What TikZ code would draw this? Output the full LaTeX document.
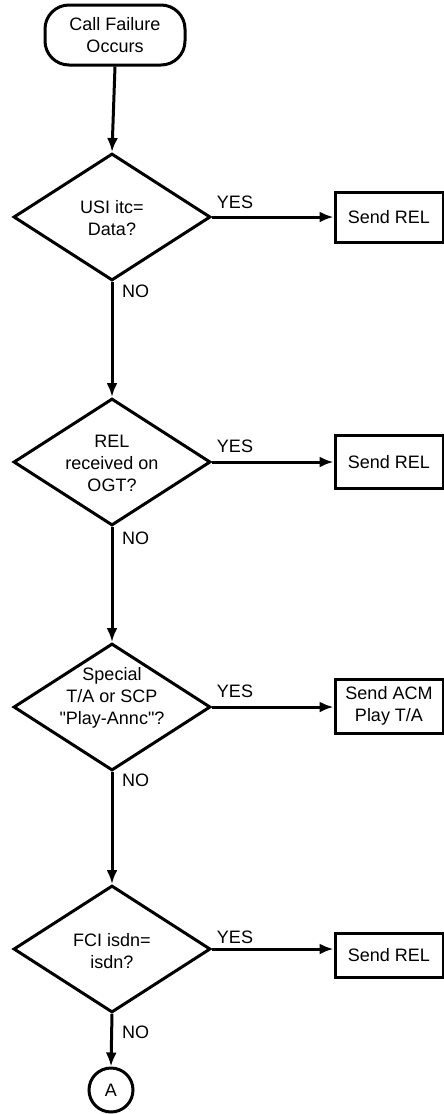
\documentclass[tikz,border=0pt]{standalone}
\usepackage{fontspec}
\setmainfont{Liberation Sans}[Ligatures=TeXOff]
\usetikzlibrary{shapes.geometric,arrows.meta}
\begin{document}
\begin{tikzpicture}[x=1pt,y=-1pt,
  every node/.style={font=\fontsize{18}{22}\selectfont},
  ln/.style={line width=3pt},
  arr/.style={ln,-{Latex[length=14pt,width=11pt]}},
  dec/.style={diamond,draw,line width=3pt,minimum width=197pt,minimum height=127pt,inner sep=0pt},
  txt/.style={align=center,inner sep=0pt},
  act/.style={rectangle,draw,line width=3pt,minimum width=108pt,align=center,inner sep=0pt},
  term/.style={rectangle,rounded corners=24pt,draw,line width=3pt,minimum width=140pt,minimum height=60pt,align=center},
  conn/.style={circle,draw,line width=3pt,minimum size=44pt,inner sep=0pt},
  yes/.style={inner sep=0pt,anchor=south},
  no/.style={inner sep=0pt,anchor=west}]
\useasboundingbox (0,0) rectangle (444,1114);
% start
\node[term] (s) at (115,35) {Call Failure\\Occurs};
% decisions
\node[dec] (d1) at (112,217) {};
\node[txt] (d1t) at (112,218) {USI itc=\\Data?};
\node[dec] (d2) at (112,462) {};
\node[txt] (d2t) at (112,463) {REL\\received on\\OGT?};
\node[dec] (d3) at (112,707) {};
\node[txt] (d3t) at (112,698) {Special\\T/A or SCP\\"Play-Annc"?};
\node[dec] (d4) at (112,949) {};
\node[txt] (d4t) at (112,951) {FCI isdn=\\isdn?};
% actions
\node[act,minimum height=50pt] (b1) at (389,217) {Send REL};
\node[act,minimum height=53pt] (b2) at (389,462) {Send REL};
\node[act,minimum height=54pt] (b3) at (389,706) {Send ACM\\Play T/A};
\node[act,minimum height=44pt] (b4) at (389,955) {Send REL};
% connector
\node[conn] (a) at (111,1090) {A};
% arrows
\draw[arr] (s.south) -- (d1.north);
\draw[arr] (d1.east) -- (d1.east -| b1.west);
\draw[arr] (d1.south) -- (d2.north);
\draw[arr] (d2.east) -- (d2.east -| b2.west);
\draw[arr] (d2.south) -- (d3.north);
\draw[arr] (d3.east) -- (d3.east -| b3.west);
\draw[arr] (d3.south) -- (d4.north);
\draw[arr] (d4.east) -- (d4.east -| b4.west);
\draw[arr] (d4.south) -- (a.north);
% labels
\node[yes] (y1) at (235,209) {YES};
\node[yes] (y2) at (235,453) {YES};
\node[yes] (y3) at (235,698) {YES};
\node[yes] (y4) at (235,944) {YES};
\node[no] (n1) at (122,291) {NO};
\node[no] (n2) at (122,538) {NO};
\node[no] (n3) at (122,780) {NO};
\node[no] (n4) at (122,1032) {NO};
\end{tikzpicture}
\end{document}
